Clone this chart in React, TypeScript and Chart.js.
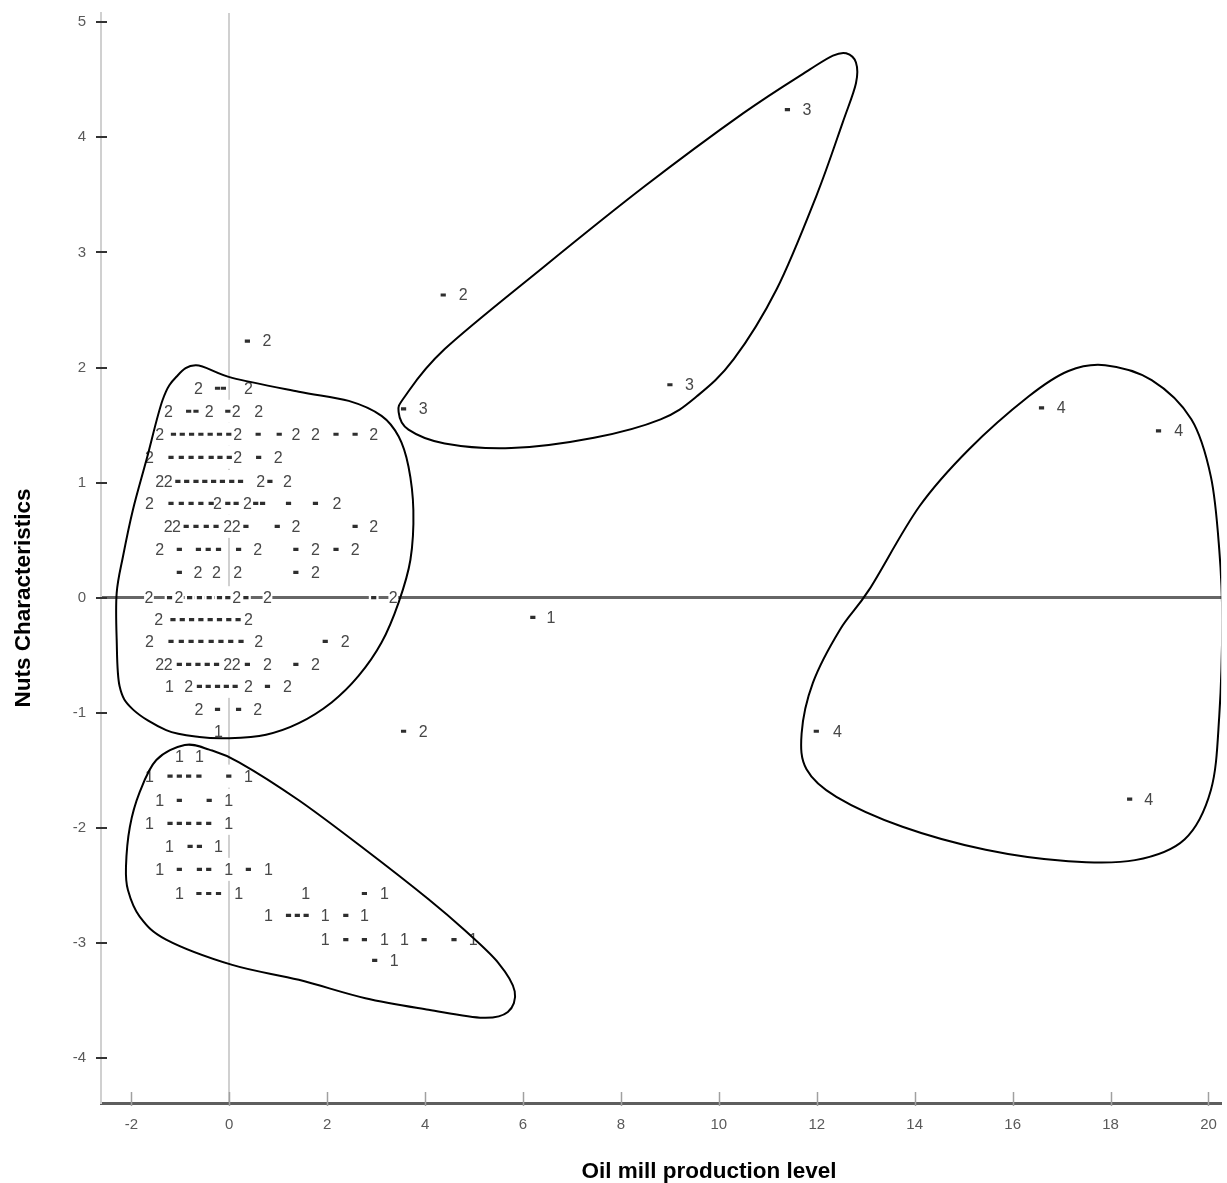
import React, { useEffect, useRef } from 'react';
import { Chart, registerables } from 'chart.js';

Chart.register(...registerables);

// ---------- axes ----------
const X_TICKS = [-2, 0, 2, 4, 6, 8, 10, 12, 14, 16, 18, 20];
const Y_TICKS = [-4, -3, -2, -1, 0, 1, 2, 3, 4, 5];
const X_MIN = -2.62;
const X_MAX = 20.26;
const Y_MIN = -4.39;
const Y_MAX = 5.08;
const X_TITLE = 'Oil mill production level';
const Y_TITLE = 'Nuts Characteristics';

// ---------- point markers "*" ----------
const markersGroup2: [number, number][] = [
  [-0.24, 1.82], [-0.12, 1.82],
  [-0.83, 1.62], [-0.68, 1.62], [-0.03, 1.62],
  [-1.14, 1.42], [-0.96, 1.42], [-0.77, 1.42], [-0.58, 1.42], [-0.39, 1.42], [-0.2, 1.42], [-0.01, 1.42], [0.59, 1.42], [1.02, 1.42], [2.18, 1.42], [2.57, 1.42],
  [-1.19, 1.22], [-0.98, 1.22], [-0.78, 1.22], [-0.58, 1.22], [-0.37, 1.22], [-0.19, 1.22], [0.0, 1.22], [0.6, 1.22],
  [-1.05, 1.01], [-0.87, 1.01], [-0.68, 1.01], [-0.5, 1.01], [-0.32, 1.01], [-0.14, 1.01], [0.05, 1.01], [0.23, 1.01], [0.83, 1.01],
  [-1.19, 0.82], [-0.98, 0.82], [-0.78, 0.82], [-0.58, 0.82], [-0.37, 0.82], [-0.03, 0.82], [0.14, 0.82], [0.54, 0.82], [0.68, 0.82], [1.21, 0.82], [1.76, 0.82],
  [-0.88, 0.62], [-0.68, 0.62], [-0.47, 0.62], [-0.27, 0.62], [0.34, 0.62], [0.98, 0.62], [2.57, 0.62],
  [-1.02, 0.42], [-0.63, 0.42], [-0.43, 0.42], [-0.22, 0.42], [0.19, 0.42], [1.36, 0.42], [2.18, 0.42],
  [-1.02, 0.22], [1.36, 0.22],
  [-1.22, 0], [-0.81, 0], [-0.61, 0], [-0.41, 0], [-0.2, 0], [-0.03, 0], [0.34, 0], [2.95, 0],
  [-1.15, -0.19], [-0.96, -0.19], [-0.77, -0.19], [-0.58, -0.19], [-0.39, -0.19], [-0.2, -0.19], [-0.01, -0.19], [0.18, -0.19],
  [-1.19, -0.38], [-0.98, -0.38], [-0.78, -0.38], [-0.58, -0.38], [-0.37, -0.38], [-0.17, -0.38], [0.03, -0.38], [0.24, -0.38], [1.96, -0.38],
  [-1.02, -0.58], [-0.83, -0.58], [-0.64, -0.58], [-0.45, -0.58], [-0.26, -0.58], [0.37, -0.58], [1.36, -0.58],
  [-0.61, -0.77], [-0.43, -0.77], [-0.24, -0.77], [-0.06, -0.77], [0.12, -0.77], [0.78, -0.77],
  [-0.24, -0.97], [0.19, -0.97],
];

const markersGroup1: [number, number][] = [
  [-1.21, -1.55], [-1.02, -1.55], [-0.83, -1.55], [-0.62, -1.55], [-0.01, -1.55],
  [-1.02, -1.76], [-0.41, -1.76],
  [-1.21, -1.96], [-1.02, -1.96], [-0.83, -1.96], [-0.62, -1.96], [-0.42, -1.96],
  [-0.8, -2.16], [-0.61, -2.16],
  [-1.02, -2.36], [-0.61, -2.36], [-0.42, -2.36], [0.39, -2.36],
  [-0.62, -2.57], [-0.42, -2.57], [-0.22, -2.57], [2.76, -2.57],
  [1.21, -2.76], [1.39, -2.76], [1.57, -2.76], [2.38, -2.76],
  [2.38, -2.97], [2.76, -2.97], [3.98, -2.97], [4.59, -2.97],
  [2.97, -3.15],
];

const markersIsolated: [number, number][] = [
  [0.37, 2.23], [4.37, 2.63], [11.4, 4.24], [9.0, 1.85], [3.56, 1.64], [6.2, -0.17],
  [3.56, -1.16], [16.59, 1.65], [18.98, 1.45], [11.99, -1.16], [18.39, -1.75],
];

// ---------- cluster number labels ----------
const labels1: [number, number][] = [
  [-1.22, -0.77], [-0.22, -1.16], [-1.02, -1.38], [-0.61, -1.38],
  [-1.63, -1.55], [0.39, -1.55], [-1.42, -1.76], [-0.01, -1.76],
  [-1.63, -1.96], [-0.01, -1.96], [-1.22, -2.16], [-0.22, -2.16],
  [-1.42, -2.36], [-0.01, -2.36], [0.8, -2.36],
  [-1.02, -2.57], [0.19, -2.57], [1.56, -2.57], [3.17, -2.57],
  [0.8, -2.76], [1.96, -2.76], [2.76, -2.76],
  [1.96, -2.97], [3.17, -2.97], [3.58, -2.97], [4.98, -2.97],
  [3.37, -3.15], [6.57, -0.17],
];

const labels2: [number, number][] = [
  [-0.63, 1.82], [0.39, 1.82],
  [-1.24, 1.62], [-0.41, 1.62], [0.14, 1.62], [0.6, 1.62],
  [-1.42, 1.42], [0.17, 1.42], [1.36, 1.42], [1.76, 1.42], [2.95, 1.42],
  [-1.63, 1.22], [0.17, 1.22], [1.0, 1.22],
  [-1.42, 1.01], [-1.25, 1.01], [0.64, 1.01], [1.19, 1.01],
  [-1.63, 0.82], [-0.24, 0.82], [0.37, 0.82], [2.2, 0.82],
  [-1.25, 0.62], [-1.08, 0.62], [-0.03, 0.62], [0.14, 0.62], [1.36, 0.62], [2.95, 0.62],
  [-1.42, 0.42], [0.58, 0.42], [1.76, 0.42], [2.57, 0.42],
  [-0.64, 0.22], [-0.26, 0.22], [0.17, 0.22], [1.76, 0.22],
  [-1.64, 0], [-1.03, 0], [0.15, 0], [0.78, 0], [3.35, 0],
  [-1.44, -0.19], [0.39, -0.19],
  [-1.63, -0.38], [0.6, -0.38], [2.37, -0.38],
  [-1.42, -0.58], [-1.25, -0.58], [-0.03, -0.58], [0.14, -0.58], [0.78, -0.58], [1.76, -0.58],
  [-0.83, -0.77], [0.39, -0.77], [1.19, -0.77],
  [-0.62, -0.97], [0.58, -0.97],
  [0.77, 2.23], [4.78, 2.63], [3.96, -1.16],
];

const labels3: [number, number][] = [[11.8, 4.24], [9.4, 1.85], [3.96, 1.64]];
const labels4: [number, number][] = [[16.99, 1.65], [19.39, 1.45], [12.42, -1.16], [18.78, -1.75]];

// ---------- cluster outlines (closed smooth curves) ----------
const outline1: [number, number][] = [
  [-0.91, -1.28], [-0.41, -1.32], [0.2, -1.43], [1.42, -1.76], [2.78, -2.19], [4.07, -2.62],
  [4.81, -2.89], [5.49, -3.17], [5.83, -3.42], [5.69, -3.6], [5.18, -3.65], [4.07, -3.58],
  [2.78, -3.48], [1.42, -3.32], [0.06, -3.19], [-1.29, -2.97], [-1.83, -2.77], [-2.07, -2.54],
  [-2.11, -2.34], [-2.03, -1.99], [-1.83, -1.69], [-1.49, -1.41],
];

const outline2: [number, number][] = [
  [-0.68, 2.02], [0.06, 1.91], [1.42, 1.79], [2.44, 1.71], [3.11, 1.58], [3.46, 1.4],
  [3.66, 1.14], [3.76, 0.76], [3.7, 0.33], [3.46, -0.04], [3.11, -0.39], [2.64, -0.68],
  [2.09, -0.91], [1.42, -1.09], [0.75, -1.19], [0.0, -1.22], [-0.61, -1.21], [-1.29, -1.15],
  [-1.97, -0.97], [-2.24, -0.77], [-2.3, -0.36], [-2.3, 0.04], [-2.17, 0.36], [-1.97, 0.76],
  [-1.69, 1.2], [-1.36, 1.72], [-1.08, 1.92],
];

const outline3: [number, number][] = [
  [12.6, 4.73], [12.8, 4.65], [12.8, 4.47], [12.53, 4.13], [11.99, 3.49], [11.18, 2.68],
  [10.3, 2.07], [9.55, 1.75], [8.81, 1.55], [7.45, 1.39], [5.76, 1.3], [4.4, 1.34],
  [3.66, 1.46], [3.46, 1.61], [3.59, 1.75], [4.4, 2.16], [6.44, 2.88], [8.47, 3.57],
  [10.5, 4.21], [11.86, 4.59], [12.33, 4.71],
];

const outline4: [number, number][] = [
  [17.89, 2.02], [18.84, 1.89], [19.65, 1.55], [20.05, 1.05], [20.22, 0.42], [20.28, -0.19],
  [20.22, -1.03], [20.05, -1.67], [19.51, -2.1], [18.5, -2.28], [17.14, -2.29], [15.45, -2.19],
  [13.75, -1.99], [12.4, -1.73], [11.79, -1.49], [11.69, -1.18], [11.92, -0.74], [12.47, -0.28],
  [13.07, 0.07], [14.09, 0.79], [15.11, 1.29], [16.33, 1.75], [17.14, 1.97],
];

// ---------- styling constants ----------
const FONT = '"Liberation Sans", Arial, Helvetica, sans-serif';
const CELL = 0.2; // size of a text-plot character cell, in axis units

const toXY = (pts: [number, number][]) => pts.map(([x, y]) => ({ x, y }));

const cellPlugin = {
  id: 'cells',
  beforeDatasetsDraw(chart: any) {
    const { ctx, scales } = chart;
    const cw = Math.abs(scales.x.getPixelForValue(CELL) - scales.x.getPixelForValue(0));
    const ch = Math.abs(scales.y.getPixelForValue(CELL) - scales.y.getPixelForValue(0));
    ctx.save();
    ctx.fillStyle = '#ffffff';
    chart.data.datasets.forEach((ds: any, i: number) => {
      if (ds.kind !== 'marker' && ds.kind !== 'label') return;
      chart.getDatasetMeta(i).data.forEach((p: any) => {
        ctx.fillRect(p.x - cw / 2, p.y - ch / 2, cw, ch);
      });
    });
    ctx.restore();
  },
};

const labelOutlinePlugin = {
  id: 'labelsOutlines',
  afterDatasetsDraw(chart: any) {
    const { ctx, chartArea } = chart;
    ctx.save();
    ctx.font = `16px ${FONT}`;
    ctx.fillStyle = '#474747';
    ctx.textAlign = 'center';
    ctx.textBaseline = 'middle';
    chart.data.datasets.forEach((ds: any, i: number) => {
      if (ds.kind !== 'label') return;
      chart.getDatasetMeta(i).data.forEach((p: any) => {
        ctx.fillText(ds.digit, p.x, p.y + 1);
      });
    });
    ctx.restore();

    ctx.save();
    ctx.beginPath();
    ctx.rect(chartArea.left, chartArea.top, chartArea.right - chartArea.left, chartArea.bottom - chartArea.top);
    ctx.clip();
    ctx.strokeStyle = '#000000';
    ctx.lineWidth = 2;
    chart.data.datasets.forEach((ds: any, i: number) => {
      if (ds.kind !== 'outline') return;
      const pts = chart.getDatasetMeta(i).data.map((p: any) => ({ x: p.x, y: p.y }));
      const n = pts.length;
      ctx.beginPath();
      ctx.moveTo(pts[0].x, pts[0].y);
      for (let k = 0; k < n; k++) {
        const p0 = pts[(k - 1 + n) % n];
        const p1 = pts[k];
        const p2 = pts[(k + 1) % n];
        const p3 = pts[(k + 2) % n];
        ctx.bezierCurveTo(
          p1.x + (p2.x - p0.x) / 6, p1.y + (p2.y - p0.y) / 6,
          p2.x - (p3.x - p1.x) / 6, p2.y - (p3.y - p1.y) / 6,
          p2.x, p2.y
        );
      }
      ctx.closePath();
      ctx.stroke();
    });
    ctx.restore();
  },
};

const axisDecorPlugin = {
  id: 'axisDecor',
  afterDraw(chart: any) {
    const { ctx, chartArea, scales } = chart;
    ctx.save();
    ctx.strokeStyle = '#333333';
    ctx.lineWidth = 2;
    Y_TICKS.forEach((v) => {
      const py = Math.round(scales.y.getPixelForValue(v));
      ctx.beginPath();
      ctx.moveTo(chartArea.left - 5, py);
      ctx.lineTo(chartArea.left + 6, py);
      ctx.stroke();
    });
    ctx.strokeStyle = '#a0a0a0';
    ctx.lineWidth = 1.5;
    X_TICKS.forEach((v) => {
      const px = Math.round(scales.x.getPixelForValue(v)) + 0.5;
      ctx.beginPath();
      ctx.moveTo(px, chartArea.bottom - 11);
      ctx.lineTo(px, chartArea.bottom + 3);
      ctx.stroke();
    });

    ctx.fillStyle = '#000000';
    ctx.font = `bold 22.5px ${FONT}`;
    ctx.textAlign = 'center';
    ctx.textBaseline = 'middle';
    ctx.fillText(X_TITLE, 709, 1172);
    ctx.translate(24, 598);
    ctx.rotate(-Math.PI / 2);
    ctx.fillText(Y_TITLE, 0, 0);
    ctx.restore();
  },
};

export default function App() {
  const ref = useRef<HTMLCanvasElement | null>(null);

  useEffect(() => {
    const canvas = ref.current;
    if (!canvas) return;
    const chart = new Chart(canvas, {
      type: 'scatter',
      data: {
        datasets: [
          {
            label: 'points',
            kind: 'marker',
            data: toXY([...markersGroup2, ...markersGroup1, ...markersIsolated]),
            pointStyle: 'line',
            pointRadius: 2.6,
            pointHoverRadius: 2.6,
            pointBorderWidth: 3.2,
            pointBorderColor: '#2e2e2e',
            pointBackgroundColor: '#2e2e2e',
          } as any,
          { label: '1', kind: 'label', digit: '1', data: toXY(labels1), pointRadius: 0, pointHoverRadius: 0 } as any,
          { label: '2', kind: 'label', digit: '2', data: toXY(labels2), pointRadius: 0, pointHoverRadius: 0 } as any,
          { label: '3', kind: 'label', digit: '3', data: toXY(labels3), pointRadius: 0, pointHoverRadius: 0 } as any,
          { label: '4', kind: 'label', digit: '4', data: toXY(labels4), pointRadius: 0, pointHoverRadius: 0 } as any,
          { label: 'cluster 1', kind: 'outline', data: toXY(outline1), pointRadius: 0, pointHoverRadius: 0 } as any,
          { label: 'cluster 2', kind: 'outline', data: toXY(outline2), pointRadius: 0, pointHoverRadius: 0 } as any,
          { label: 'cluster 3', kind: 'outline', data: toXY(outline3), pointRadius: 0, pointHoverRadius: 0 } as any,
          { label: 'cluster 4', kind: 'outline', data: toXY(outline4), pointRadius: 0, pointHoverRadius: 0 } as any,
        ],
      },
      options: {
        animation: false,
        responsive: false,
        devicePixelRatio: 1,
        events: [],
        layout: { padding: { top: 13, right: 0, bottom: 0, left: 0 } },
        plugins: {
          legend: { display: false },
          tooltip: { enabled: false },
          title: { display: false },
        },
        scales: {
          x: {
            type: 'linear',
            min: X_MIN,
            max: X_MAX,
            afterBuildTicks: (s: any) => {
              s.ticks = X_TICKS.map((v) => ({ value: v }));
            },
            afterFit: (s: any) => {
              s.height = 80;
              s.paddingLeft = 0;
              s.paddingRight = 0;
            },
            ticks: {
              autoSkip: false,
              maxRotation: 0,
              padding: 13,
              color: '#5a5a5a',
              font: { family: FONT, size: 15 },
              callback: (v: any) => String(v),
            },
            grid: {
              drawTicks: false,
              color: (c: any) => (c.tick && c.tick.value === 0 ? '#d0d0d0' : 'rgba(0,0,0,0)'),
              lineWidth: (c: any) => (c.tick && c.tick.value === 0 ? 2 : 1),
            },
            border: { display: true, color: '#5e5e5e', width: 3 },
          },
          y: {
            type: 'linear',
            min: Y_MIN,
            max: Y_MAX,
            afterBuildTicks: (s: any) => {
              s.ticks = Y_TICKS.map((v) => ({ value: v }));
            },
            afterFit: (s: any) => {
              s.width = 101;
              s.paddingTop = 0;
              s.paddingBottom = 0;
            },
            ticks: {
              autoSkip: false,
              padding: 15,
              color: '#5a5a5a',
              font: { family: FONT, size: 15 },
              callback: (v: any) => String(v),
            },
            grid: {
              drawTicks: false,
              color: (c: any) => (c.tick && c.tick.value === 0 ? '#666666' : 'rgba(0,0,0,0)'),
              lineWidth: (c: any) => (c.tick && c.tick.value === 0 ? 3 : 1),
            },
            border: { display: true, color: '#d0d0d0', width: 2 },
          },
        },
      } as any,
      plugins: [cellPlugin, labelOutlinePlugin, axisDecorPlugin],
    });
    return () => chart.destroy();
  }, []);

  return (
    <div style={{ position: 'absolute', left: 0, top: 0, width: 1227, height: 1183, background: '#ffffff' }}>
      <canvas ref={ref} width={1227} height={1183} style={{ display: 'block', width: 1227, height: 1183 }} />
    </div>
  );
}
